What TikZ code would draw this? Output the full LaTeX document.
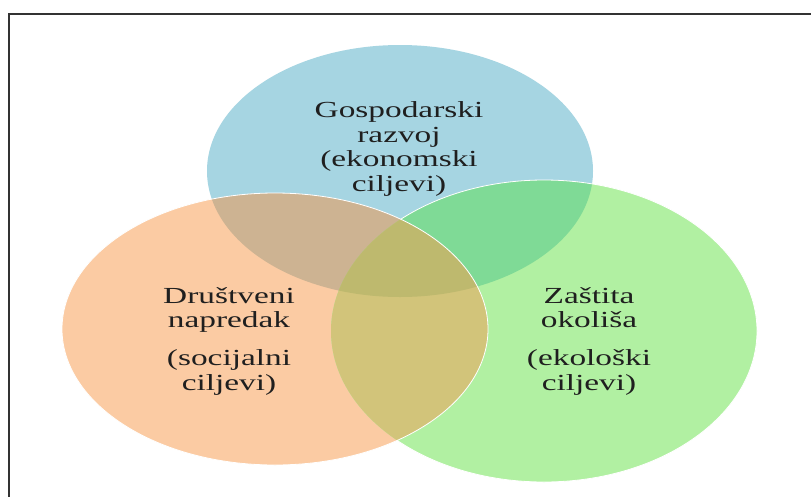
\documentclass[tikz,border=0pt]{standalone}
\usepackage{fontspec}
\setmainfont{Liberation Serif}[FakeStretch=1.45]
\definecolor{cBlue}{RGB}{166,213,226}
\definecolor{cOrange}{RGB}{251,203,163}
\definecolor{cGreen}{RGB}{177,240,162}
\definecolor{cBO}{RGB}{205,179,146}
\definecolor{cBG}{RGB}{127,218,150}
\definecolor{cOG}{RGB}{210,196,122}
\definecolor{cBOG}{RGB}{190,185,110}
\tikzset{
  lbl/.style={align=center, text=black!88, inner sep=0pt,
    font=\fontsize{23}{24.7}\selectfont},
  edge/.style={draw=white, line width=0.8pt},
}
\newcommand{\blueE}{(400,171) ellipse [x radius=193pt, y radius=126pt]}
\newcommand{\orangeE}{(275,329) ellipse [x radius=213pt, y radius=136pt]}
\newcommand{\greenE}{(544,331) ellipse [x radius=213pt, y radius=151pt]}
\begin{document}
\begin{tikzpicture}[x=1pt, y=-1pt]
\useasboundingbox (0,0) rectangle (811,496);
\begin{scope}
\clip (0,0) rectangle (811,496);
\fill[white] (0,0) rectangle (811,496);
% base fills
\fill[cBlue] \blueE;
\fill[cOrange] \orangeE;
\fill[cGreen] \greenE;
% pairwise overlaps
\begin{scope}
  \clip \blueE;
  \fill[cBO] \orangeE;
  \fill[cBG] \greenE;
\end{scope}
\begin{scope}
  \clip \orangeE;
  \fill[cOG] \greenE;
\end{scope}
\begin{scope}
  \clip \blueE;
  \clip \orangeE;
  \fill[cBOG] \greenE;
\end{scope}
% thin white edges
\begin{scope}[even odd rule]
  \clip (-10,-10) rectangle (830,510) \orangeE;
  \draw[edge] \greenE;
\end{scope}
\draw[edge] \orangeE;
% frame
\draw[black!80, line width=2.2pt] (8.7,13.8) rectangle (840,530);
\end{scope}
% labels
\node[lbl] (econ) at (399,149) {Gospodarski\\razvoj\\(ekonomski\\ciljevi)};
\node[lbl] (soc) at (229,341) {Društveni\\napredak\\[13pt](socijalni\\ciljevi)};
\node[lbl] (eko) at (589,341) {Zaštita\\okoliša\\[13pt](ekološki\\ciljevi)};
\end{tikzpicture}
\end{document}
